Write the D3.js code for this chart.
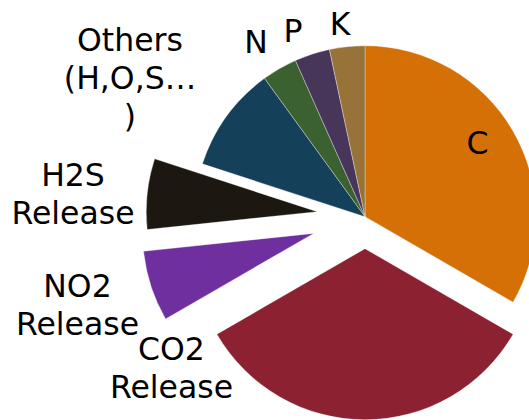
<!DOCTYPE html>
<html>
<head>
<meta charset="utf-8">
<script src="https://cdn.jsdelivr.net/npm/d3@7"></script>
<style>
  html, body { margin: 0; padding: 0; background: #fff; }
  svg { display: block; }
  text { font-family: "DejaVu Sans", sans-serif; fill: #000; }
</style>
</head>
<body>
<svg id="svg1" width="529" height="420"></svg>
<script>
// chart data, clockwise from 12 o'clock
categories = ['C', 'CO2 Release', 'NO2 Release', 'H2S Release', 'Others (H,O,S…)', 'N', 'P', 'K'];
values     = [50, 50, 10, 10, 15, 5, 5, 5];
colors     = ['#d47006', '#8b2131', '#6f2f9f', '#1d1711', '#14405a', '#3c6131', '#47365a', '#977339'];
// label text, one entry per line
labelLines = [['C'], ['CO2', 'Release'], ['NO2', 'Release'], ['H2S', 'Release'],
              ['Others', '(H,O,S…', ')'], ['N'], ['P'], ['K']];

// layout
center = { x: 365, y: 216.7 };
radius = 171;
explode = [0, 32, 54, 48, 0, 0, 0, 0];   // px pulled out along the slice middle
labelAt = [[477.5, 153.5], [171.5, 360], [77.5, 297], [73, 186], [130, 51], [256, 53], [293, 42], [340, 35]];
lineStep = 38;

document.addEventListener('DOMContentLoaded', function() {
  svg = d3.select('#svg1');

  var pie = d3.pie()
      .sort(null)
      .value(d => d.value);
  var arc = d3.arc()
      .innerRadius(0)
      .outerRadius(radius);

  var data = categories.map(function(c, i) {
    return { name: c, value: values[i], color: colors[i], off: explode[i], lines: labelLines[i], pos: labelAt[i] };
  });
  var arcs = pie(data);

  g = svg.append('g')
      .attr('transform', `translate(${center.x},${center.y})`);

  g.selectAll('path')
      .data(arcs)
      .enter()
      .append('path')
      .attr('transform', function(d) {
        var mid = (d.startAngle + d.endAngle) / 2;
        return `translate(${Math.sin(mid) * d.data.off},${-Math.cos(mid) * d.data.off})`;
      })
      .attr('d', arc)
      .style('fill', d => d.data.color)
      .style('stroke', '#ffffff')
      .style('stroke-opacity', 0.55)
      .style('stroke-width', 0.6);

  // labels
  var lbl = svg.selectAll('text.lbl')
      .data(arcs)
      .enter()
      .append('text')
      .attr('class', 'lbl')
      .attr('text-anchor', 'middle')
      .style('font-size', '31.5px');
  lbl.each(function(d) {
    var t = d3.select(this);
    d.data.lines.forEach(function(s, k) {
      t.append('tspan')
        .attr('x', d.data.pos[0])
        .attr('y', d.data.pos[1] + k * lineStep)
        .text(s);
    });
  });
});
</script>
</body>
</html>
